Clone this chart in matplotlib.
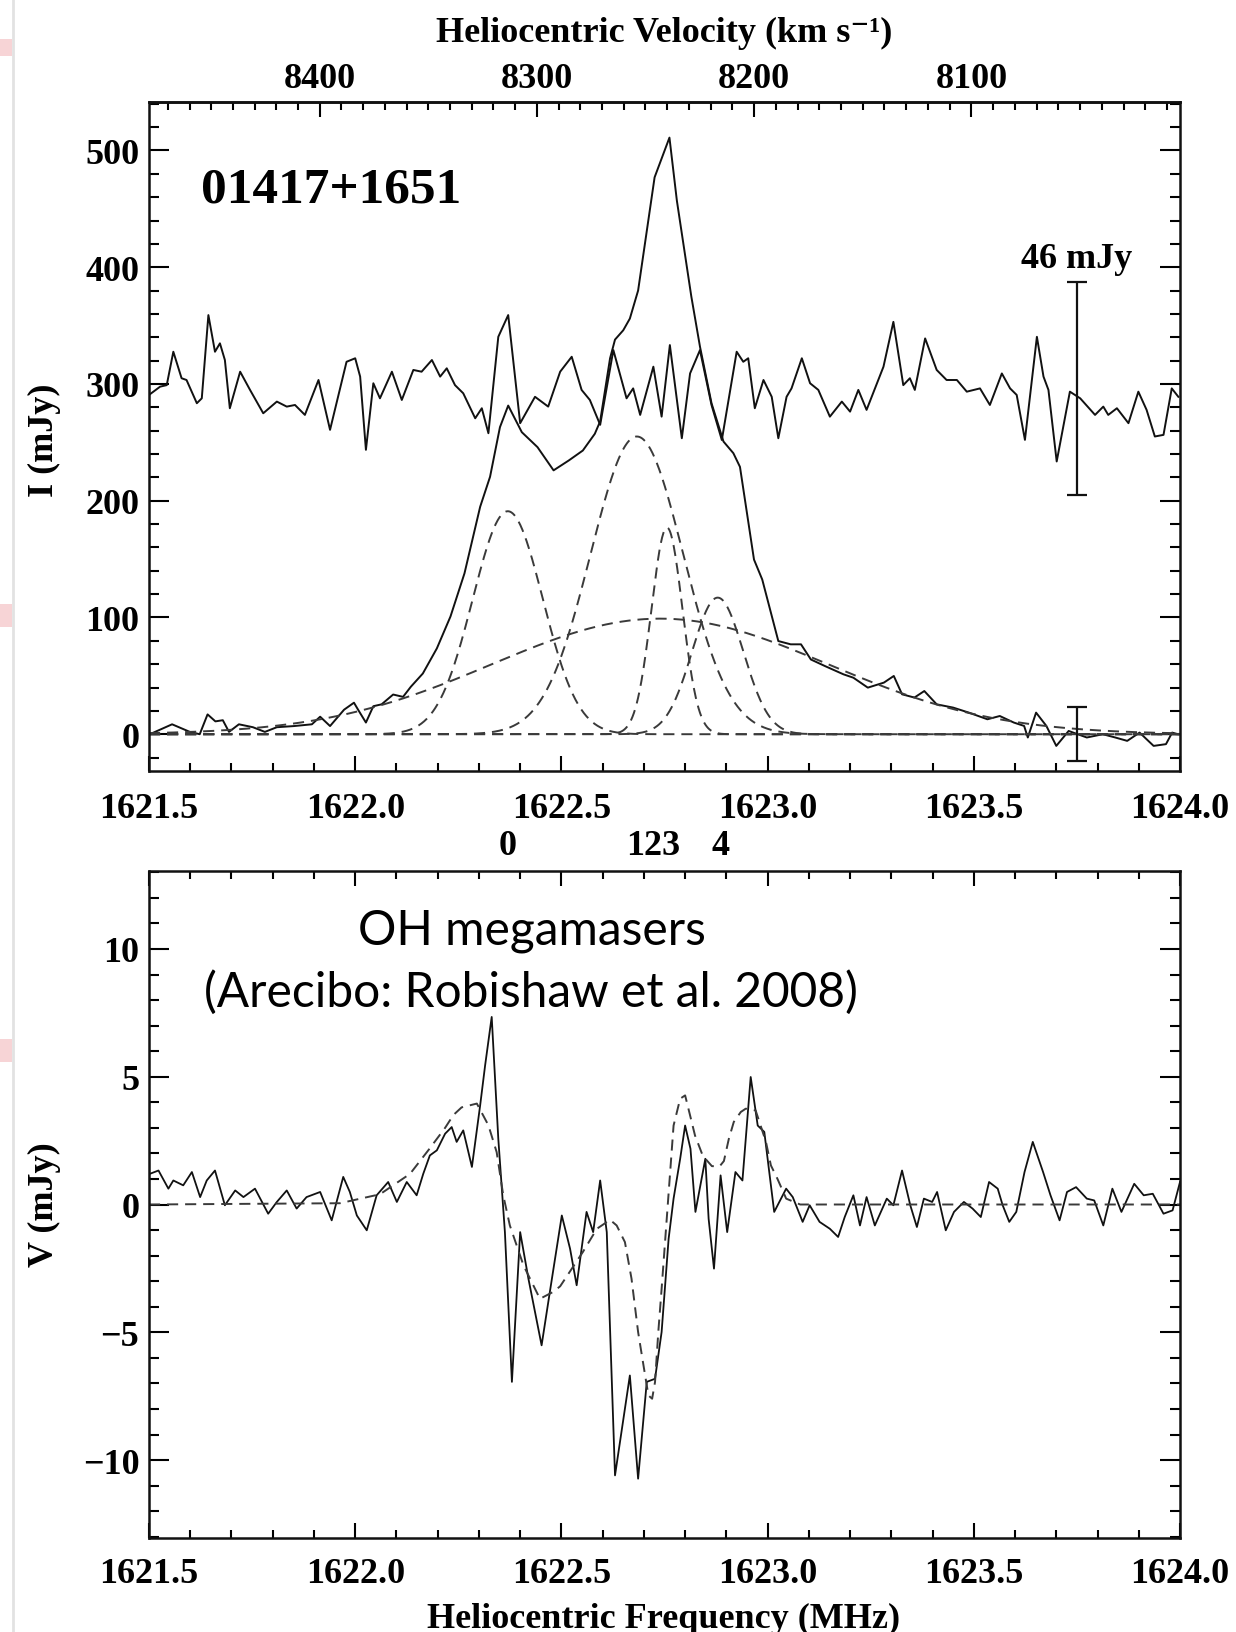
import numpy as np
import matplotlib
matplotlib.use('Agg')
import matplotlib.pyplot as plt
from matplotlib.ticker import MultipleLocator, FormatStrFormatter
from matplotlib.patches import Rectangle
from matplotlib.lines import Line2D
import matplotlib.transforms as mtransforms

plt.rcParams['font.family'] = ['Liberation Serif', 'DejaVu Serif']
plt.rcParams['font.weight'] = 'bold'
plt.rcParams['lines.scale_dashes'] = False

C_KMS = 299792.458
F0_MHZ = 1667.359

# ---------------- Stokes I spectrum (mJy) ----------------
spec_freq = [1621.502, 1621.556, 1621.599, 1621.623, 1621.642, 1621.661, 1621.679, 1621.694,
             1621.718, 1621.752, 1621.781, 1621.810, 1621.852, 1621.895, 1621.915, 1621.939,
             1621.973, 1621.997, 1622.007, 1622.026, 1622.044, 1622.064, 1622.092, 1622.116,
             1622.135, 1622.164, 1622.198, 1622.231, 1622.265, 1622.303, 1622.327, 1622.351,
             1622.371, 1622.404, 1622.442, 1622.481, 1622.518, 1622.552, 1622.581, 1622.594,
             1622.606, 1622.618, 1622.630, 1622.650, 1622.666, 1622.686, 1622.726, 1622.762,
             1622.780, 1622.815, 1622.836, 1622.864, 1622.893, 1622.917, 1622.933, 1622.967,
             1622.987, 1623.026, 1623.056, 1623.081, 1623.105, 1623.139, 1623.184, 1623.208,
             1623.243, 1623.282, 1623.306, 1623.326, 1623.356, 1623.380, 1623.410, 1623.450,
             1623.488, 1623.533, 1623.563, 1623.597, 1623.622, 1623.631, 1623.651, 1623.676,
             1623.700, 1623.730, 1623.774, 1623.813, 1623.843, 1623.872, 1623.902, 1623.936,
             1623.966, 1623.981, 1623.995]
spec_mjy = [0.0, 8.5, 2.0, 0.0, 17.0, 11.0, 12.0, 2.0,
            8.5, 6.0, 2.0, 6.0, 7.0, 8.5, 15.0, 7.0,
            21.0, 27.0, 21.0, 10.0, 24.0, 25.6, 34.0, 32.0,
            40.7, 52.0, 73.5, 100.8, 137.8, 194.8, 220.5, 263.0,
            281.5, 258.7, 245.9, 226.0, 234.5, 243.0, 257.3, 268.0,
            295.0, 322.0, 338.0, 346.0, 356.0, 380.0, 477.0, 511.0,
            457.0, 375.0, 332.0, 283.5, 250.7, 240.7, 229.0, 149.6,
            132.5, 79.8, 77.0, 77.0, 64.0, 58.4, 51.3, 48.4,
            39.9, 44.2, 49.9, 34.2, 31.4, 37.0, 25.6, 22.8,
            18.5, 12.8, 15.6, 10.0, 7.1, -2.8, 18.5, 7.1,
            -10.0, 2.8, -2.8, 0.0, -2.8, -5.7, 1.4, -10.0,
            -8.5, 1.4, 0.0]

# ---------------- residual spectrum (offset, mJy) ----------------
resid_freq = [1621.500, 1621.527, 1621.543, 1621.559, 1621.579, 1621.591, 1621.616, 1621.628,
              1621.644, 1621.660, 1621.672, 1621.684, 1621.696, 1621.721, 1621.745, 1621.777,
              1621.810, 1621.834, 1621.854, 1621.878, 1621.911, 1621.939, 1621.979, 1622.000,
              1622.012, 1622.026, 1622.044, 1622.060, 1622.089, 1622.113, 1622.141, 1622.161,
              1622.186, 1622.206, 1622.222, 1622.242, 1622.262, 1622.291, 1622.307, 1622.323,
              1622.347, 1622.371, 1622.400, 1622.436, 1622.468, 1622.497, 1622.525, 1622.549,
              1622.569, 1622.594, 1622.626, 1622.658, 1622.674, 1622.691, 1622.723, 1622.743,
              1622.763, 1622.792, 1622.812, 1622.836, 1622.864, 1622.889, 1622.925, 1622.941,
              1622.953, 1622.969, 1622.990, 1623.010, 1623.026, 1623.046, 1623.058, 1623.083,
              1623.103, 1623.123, 1623.151, 1623.180, 1623.200, 1623.220, 1623.240, 1623.281,
              1623.305, 1623.329, 1623.345, 1623.357, 1623.382, 1623.410, 1623.434, 1623.459,
              1623.483, 1623.515, 1623.539, 1623.568, 1623.588, 1623.604, 1623.624, 1623.653,
              1623.669, 1623.681, 1623.701, 1623.733, 1623.758, 1623.794, 1623.814, 1623.826,
              1623.847, 1623.875, 1623.899, 1623.919, 1623.939, 1623.960, 1623.980, 1623.996]
resid_mjy = [290.6, 297.7, 299.0, 327.6, 304.9, 303.4, 283.5, 287.7,
             359.0, 327.6, 334.8, 320.5, 279.2, 310.5, 294.9, 274.9,
             284.9, 280.6, 282.0, 273.5, 303.4, 260.7, 319.0, 322.0,
             306.3, 243.6, 300.6, 287.7, 310.5, 286.3, 312.0, 310.5,
             320.5, 306.3, 313.4, 299.0, 292.0, 270.6, 279.2, 257.8,
             340.4, 359.0, 266.4, 289.0, 280.6, 310.5, 323.3, 294.9,
             286.3, 265.0, 329.0, 287.7, 296.2, 273.5, 314.8, 272.0,
             333.3, 253.5, 309.0, 329.0, 282.0, 252.0, 327.6, 319.0,
             322.0, 279.2, 303.4, 289.0, 253.5, 289.0, 296.2, 322.0,
             300.6, 294.9, 272.0, 284.9, 276.3, 294.9, 277.8, 314.8,
             353.2, 299.0, 304.9, 294.9, 339.0, 312.0, 303.4, 303.4,
             293.4, 296.2, 282.0, 309.0, 296.2, 290.6, 252.1, 340.4,
             306.3, 294.9, 233.6, 293.4, 287.7, 273.5, 280.6, 273.5,
             279.2, 266.4, 293.4, 277.8, 255.0, 256.4, 296.2, 289.0]

# ---------------- Gaussian components (fit parameters) ----------------
comp_center_mhz = [1622.370, 1622.739, 1622.683, 1622.756, 1622.879]
comp_amp_mjy = [191.0, 99.0, 255.0, 177.0, 117.0]
comp_sigma_mhz = [0.085, 0.407, 0.112, 0.0376, 0.062]

comp_labels = ['0', '123', '4']
comp_label_freq = [1622.370, 1622.722, 1622.887]

# ---------------- error bars ----------------
errbar_freq = [1623.75, 1623.75]
errbar_center = [296.0, 0.0]
errbar_half = [91.0, 23.0]
errbar_text = '46 mJy'

# ---------------- Stokes V spectrum (mJy) ----------------
v_freq = [1621.502, 1621.523, 1621.547, 1621.559, 1621.583, 1621.604, 1621.624, 1621.640,
          1621.660, 1621.684, 1621.709, 1621.729, 1621.757, 1621.789, 1621.810, 1621.834,
          1621.858, 1621.882, 1621.915, 1621.943, 1621.971, 1621.987, 1622.004, 1622.028,
          1622.052, 1622.080, 1622.101, 1622.125, 1622.149, 1622.165, 1622.181, 1622.198,
          1622.218, 1622.234, 1622.246, 1622.262, 1622.283, 1622.303, 1622.315, 1622.331,
          1622.347, 1622.363, 1622.380, 1622.400, 1622.420, 1622.452, 1622.472, 1622.501,
          1622.521, 1622.537, 1622.561, 1622.577, 1622.594, 1622.610, 1622.630, 1622.666,
          1622.686, 1622.707, 1622.727, 1622.743, 1622.760, 1622.772, 1622.788, 1622.800,
          1622.813, 1622.825, 1622.837, 1622.849, 1622.857, 1622.870, 1622.886, 1622.902,
          1622.922, 1622.939, 1622.959, 1622.976, 1622.992, 1623.016, 1623.045, 1623.061,
          1623.085, 1623.102, 1623.126, 1623.151, 1623.171, 1623.187, 1623.208, 1623.224,
          1623.240, 1623.260, 1623.289, 1623.305, 1623.326, 1623.346, 1623.362, 1623.379,
          1623.399, 1623.411, 1623.432, 1623.452, 1623.476, 1623.497, 1623.517, 1623.537,
          1623.558, 1623.570, 1623.586, 1623.603, 1623.623, 1623.643, 1623.668, 1623.686,
          1623.708, 1623.726, 1623.748, 1623.774, 1623.792, 1623.814, 1623.836, 1623.858,
          1623.889, 1623.912, 1623.934, 1623.960, 1623.982, 1624.000]
v_mjy = [1.20, 1.33, 0.62, 0.94, 0.75, 1.27, 0.29, 0.94,
         1.33, -0.03, 0.55, 0.29, 0.62, -0.36, 0.10, 0.55,
         -0.16, 0.29, 0.49, -0.62, 1.08, 0.49, -0.43, -1.01,
         0.36, 0.88, 0.10, 0.88, 0.36, 1.20, 1.92, 2.12,
         2.77, 3.03, 2.45, 2.90, 1.47, 3.88, 5.44, 7.34,
         2.57, -1.08, -6.94, -1.08, -2.90, -5.51, -3.42, -0.43,
         -1.73, -3.16, -0.29, -1.08, 0.94, -1.08, -10.60, -6.69,
         -10.73, -6.94, -6.82, -4.99, -1.34, 0.23, 1.79, 3.09,
         2.18, -0.29, 0.75, 1.79, -0.56, -2.51, 1.14, -1.08,
         1.27, 0.94, 4.99, 3.09, 2.84, -0.29, 0.62, 0.29,
         -0.68, -0.03, -0.68, -0.95, -1.27, -0.49, 0.36, -0.82,
         0.29, -0.82, 0.23, -0.03, 1.33, -0.03, -0.88, 0.23,
         0.10, 0.49, -1.01, -0.29, 0.10, -0.16, -0.49, 0.88,
         0.62, -0.03, -0.68, -0.29, 1.27, 2.45, 1.27, 0.36,
         -0.62, 0.49, 0.68, 0.23, 0.16, -0.82, 0.62, -0.29,
         0.81, 0.36, 0.42, -0.36, -0.23, 0.88]

# ---------------- Stokes V fit (dashed) ----------------
vfit_freq = [1621.500, 1621.963, 1622.060, 1622.133, 1622.181, 1622.218, 1622.238, 1622.258,
             1622.295, 1622.323, 1622.343, 1622.359, 1622.375, 1622.408, 1622.448, 1622.480,
             1622.497, 1622.552, 1622.586, 1622.618, 1622.634, 1622.654, 1622.670, 1622.686,
             1622.699, 1622.711, 1622.720, 1622.727, 1622.735, 1622.743, 1622.759, 1622.772,
             1622.788, 1622.800, 1622.808, 1622.824, 1622.843, 1622.865, 1622.884, 1622.894,
             1622.906, 1622.918, 1622.935, 1622.947, 1622.971, 1622.996, 1623.008, 1623.024,
             1623.045, 1623.079, 1624.000]
vfit_mjy = [0.0, 0.05, 0.4, 1.2, 2.2, 3.0, 3.5, 3.8,
            3.95, 3.1, 2.05, 0.36, -0.82, -2.38, -3.69, -3.42,
            -3.2, -1.86, -0.95, -0.6, -0.82, -1.47, -2.9, -4.99,
            -6.29, -7.47, -7.6, -6.95, -4.98, -3.3, 0.23, 3.09,
            4.14, 4.27, 3.75, 2.7, 1.9, 1.5, 1.5, 1.7,
            2.57, 3.23, 3.62, 3.75, 3.68, 2.45, 1.53, 1.0,
            0.23, 0.0, 0.0]


def f2v(f):
    f = np.asarray(f, dtype=float)
    with np.errstate(divide='ignore', invalid='ignore'):
        return C_KMS * (F0_MHZ / f - 1.0)


def v2f(v):
    v = np.asarray(v, dtype=float)
    with np.errstate(divide='ignore', invalid='ignore'):
        return F0_MHZ / (1.0 + v / C_KMS)


W, H = 1236, 1633
fig = plt.figure(figsize=(W / 100, H / 100), dpi=100)


def fx(px):
    return px / W


def fy(py):
    return 1 - py / H


L, R = 149, 1180
ax1 = fig.add_axes([fx(L), fy(772), (R - L) / W, (772 - 103) / H])
ax2 = fig.add_axes([fx(L), fy(1539), (R - L) / W, (1539 - 872) / H])

line_col = '#111111'
dash_col = '#3a3a3a'
dash_ls = (0, (8, 5))

# --- top panel ---
ax1.plot(spec_freq, spec_mjy, color=line_col, lw=1.4)
ax1.plot(resid_freq, resid_mjy, color=line_col, lw=1.4)
grid = np.linspace(1621.5, 1624.0, 1500)
for c, a, s in zip(comp_center_mhz, comp_amp_mjy, comp_sigma_mhz):
    ax1.plot(grid, a * np.exp(-0.5 * ((grid - c) / s) ** 2), color=dash_col,
             lw=1.4, linestyle=dash_ls)
ax1.errorbar(errbar_freq, errbar_center, yerr=errbar_half, fmt='none',
             ecolor='#111111', elinewidth=1.6, capsize=7.5, capthick=1.6)
ax1.text(errbar_freq[0], 400, errbar_text, fontsize=26, ha='center', va='baseline')
ax1.text(1621.626, 456, '01417+1651', fontsize=37, ha='left', va='baseline')

ax1.set_xlim(1621.5, 1624.0)
ax1.set_ylim(-31.5, 541.5)
ax1.yaxis.set_major_locator(MultipleLocator(100))
ax1.yaxis.set_minor_locator(MultipleLocator(20))

# --- bottom panel ---
ax2.plot(v_freq, v_mjy, color=line_col, lw=1.3)
ax2.plot(vfit_freq, vfit_mjy, color=dash_col, lw=1.4, linestyle=dash_ls)
ax2.set_xlim(1621.5, 1624.0)
ax2.set_ylim(-13.05, 13.05)
ax2.yaxis.set_major_locator(MultipleLocator(5))
ax2.yaxis.set_minor_locator(MultipleLocator(1))

for ax, xpad in ((ax1, 15), (ax2, 14)):
    ax.xaxis.set_major_locator(MultipleLocator(0.5))
    ax.xaxis.set_minor_locator(MultipleLocator(0.1))
    ax.xaxis.set_major_formatter(FormatStrFormatter('%.1f'))
    ax.tick_params(axis='x', which='major', direction='in', length=11, width=1.5,
                   labelsize=26, pad=xpad)
    ax.tick_params(axis='x', which='minor', direction='in', length=6, width=1.5)
    ax.tick_params(axis='y', which='major', direction='in', length=14.5, width=1.5,
                   labelsize=26, pad=7, right=True)
    ax.tick_params(axis='y', which='minor', direction='in', length=7.5, width=1.5,
                   right=True)
    for sp in ax.spines.values():
        sp.set_linewidth(1.8)
        sp.set_color('#111111')

ax1.tick_params(axis='x', which='both', top=False)
ax2.tick_params(axis='x', which='both', top=True, labeltop=False)

sec = ax1.secondary_xaxis('top', functions=(f2v, v2f))
sec.xaxis.set_major_locator(MultipleLocator(100))
sec.xaxis.set_minor_locator(MultipleLocator(10))
sec.xaxis.set_major_formatter(FormatStrFormatter('%d'))
sec.tick_params(which='major', direction='in', length=11, width=1.5, labelsize=26, pad=5)
sec.tick_params(which='minor', direction='in', length=6, width=1.5)
sec.spines['top'].set_linewidth(1.8)

# component labels
trans = mtransforms.blended_transform_factory(ax1.transData, fig.transFigure)
for lab, f in zip(comp_labels, comp_label_freq):
    ax1.text(f, fy(855), lab, transform=trans, fontsize=26, ha='center', va='baseline')

# axis labels
fig.text(fx(664), fy(42), 'Heliocentric Velocity (km s\u207b\u00b9)', fontsize=26,
         ha='center', va='baseline')
fig.text(fx(664), fy(1628), 'Heliocentric Frequency (MHz)', fontsize=26,
         ha='center', va='baseline')
fig.text(fx(44), fy(440), 'I (mJy)', fontsize=26, rotation=90, ha='center', va='center')
fig.text(fx(44), fy(1205), 'V (mJy)', fontsize=26, rotation=90, ha='center', va='center')

# annotation
sans = ['Lato', 'DejaVu Sans']
fig.text(fx(532), fy(945), 'OH megamasers', fontsize=34.5, family=sans, weight='normal',
         ha='center', va='baseline')
fig.text(fx(531), fy(1007), '(Arecibo: Robishaw et al. 2008)', fontsize=34.5, family=sans,
         weight='normal', ha='center', va='baseline')

# slide edge artefacts
fig.add_artist(Line2D([fx(13), fx(13)], [0, 1], transform=fig.transFigure,
                      color='#e2e2e2', lw=2))
for y0, y1 in [(40, 57), (605, 628), (1040, 1063)]:
    fig.add_artist(Rectangle((0, fy(y1)), fx(12), (y1 - y0) / H, transform=fig.transFigure,
                             facecolor='#f7d4d6', edgecolor='none'))

fig.savefig('out.png', dpi=100)
